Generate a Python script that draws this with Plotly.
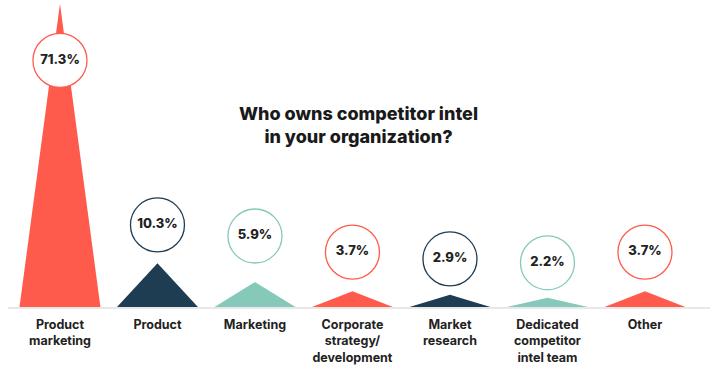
import plotly.graph_objects as go

# ---- data ----
categories = ["Product<br>marketing", "Product", "Marketing",
              "Corporate<br>strategy/<br>development", "Market<br>research",
              "Dedicated<br>competitor<br>intel team", "Other"]
values = [71.3, 10.3, 5.9, 3.7, 2.9, 2.2, 3.7]
value_labels = ["71.3%", "10.3%", "5.9%", "3.7%", "2.9%", "2.2%", "3.7%"]

# ---- style ----
RED, NAVY, TEAL = "#FF5B4C", "#1E3C52", "#86C8B9"
colors = [RED, NAVY, TEAL, RED, NAVY, TEAL, RED]
label_offsets = [-13.3, 9.0, 10.8, 9.2, 8.4, 8.2, 9.2]   # circle centre relative to peak (in % units)
half_w = 0.415
FONT = "Inter"

fig = go.Figure()
xs = list(range(len(categories)))
for i, (v, c) in enumerate(zip(values, colors)):
    fig.add_trace(go.Scatter(
        x=[i - half_w, i, i + half_w, i - half_w],
        y=[0, v, 0, 0],
        mode="lines", fill="toself", fillcolor=c,
        line=dict(width=0, color=c), hoverinfo="skip", showlegend=False))

fig.add_trace(go.Scatter(
    x=xs, y=[v + o for v, o in zip(values, label_offsets)],
    mode="markers+text",
    marker=dict(size=54, color="white", line=dict(width=1.3, color=colors)),
    text=value_labels, textposition="middle center",
    textfont=dict(family=FONT, size=13, color="#222222", weight=800),
    hoverinfo="skip", showlegend=False, cliponaxis=False))

fig.add_annotation(
    text="Who owns competitor intel<br>in your organization?",
    xref="paper", yref="paper", x=(358 - 8) / 702, y=(307 - 125) / 304,
    xanchor="center", yanchor="middle", showarrow=False, align="center",
    font=dict(family=FONT, size=18, color="#1a1a1a", weight=800))

fig.update_layout(
    width=722, height=370,
    margin=dict(l=8, r=12, t=3, b=63),
    paper_bgcolor="white", plot_bgcolor="white",
    xaxis=dict(range=[-0.533, 6.667], tickmode="array", tickvals=xs,
               ticktext=categories, showgrid=False, zeroline=False,
               showline=True, linecolor="#E8E8E8", linewidth=2,
               ticks="outside", ticklen=5, tickcolor="rgba(0,0,0,0)",
               tickfont=dict(family=FONT, size=12.5, color="#222222", weight=700)),
    yaxis=dict(range=[0, 71.5], visible=False),
)

fig.write_html("out.html", config={"displayModeBar": False},
               post_script="document.body.style.margin='0';document.body.style.overflow='hidden';")
